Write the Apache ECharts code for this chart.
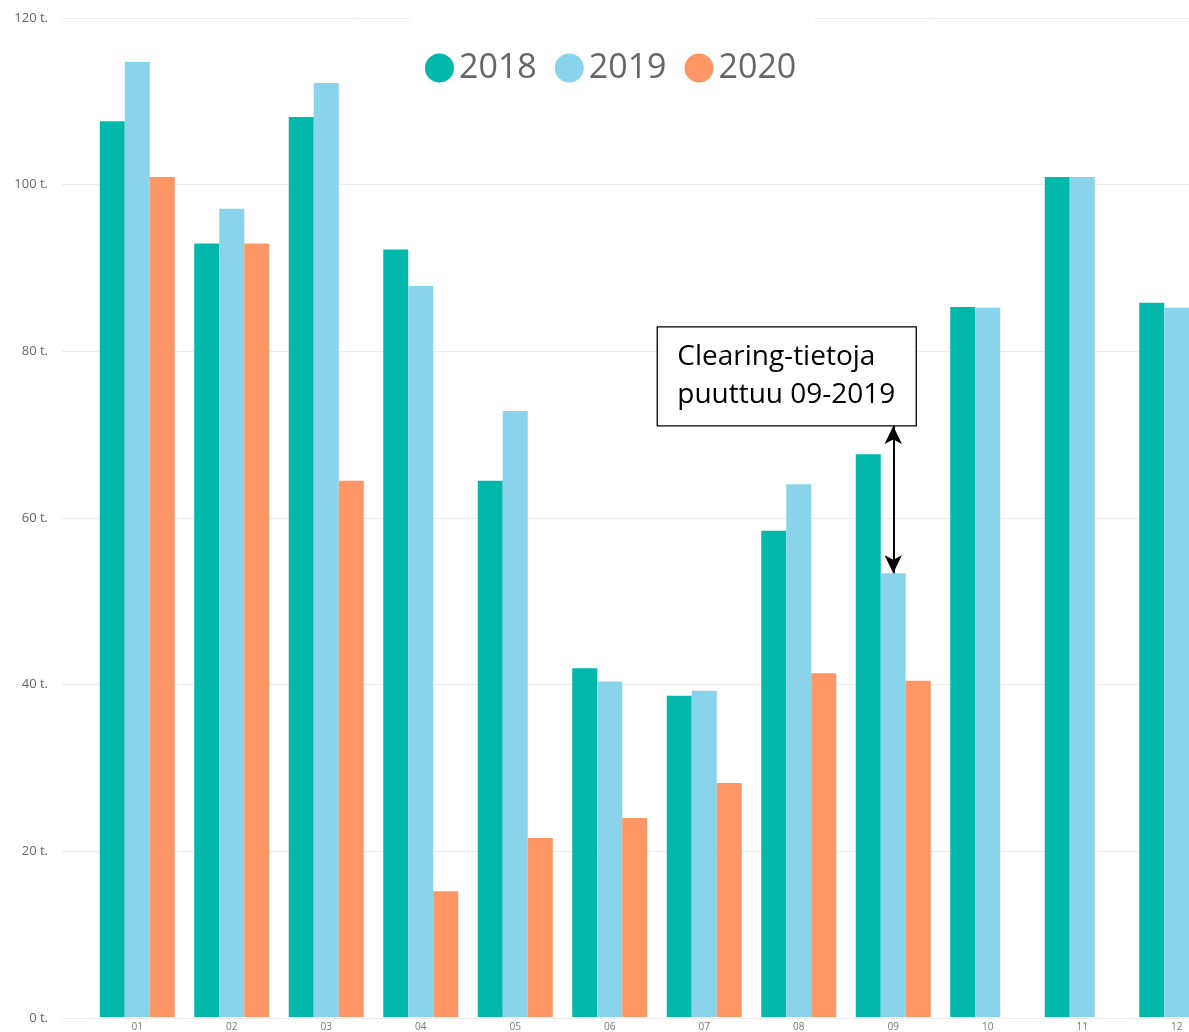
<!DOCTYPE html>
<html>
<head>
<meta charset="utf-8">
<script src="https://cdn.jsdelivr.net/npm/echarts@6/dist/echarts.min.js"></script>
<style>
html,body{margin:0;padding:0;background:#fff;overflow:hidden;width:1189px;height:1032px;}
#c{width:1224px;height:1032px;}
</style>
</head>
<body>
<div id="c"></div>
<script>
const months = ['01','02','03','04','05','06','07','08','09','10','11','12'];
const y2018 = [107.6, 92.9, 108.1, 92.2, 64.4, 41.9, 38.6, 58.4, 67.6, 85.3, 100.9, 85.8];
const y2019 = [114.7, 97.1, 112.2, 87.8, 72.8, 40.3, 39.2, 64.0, 53.3, 85.2, 100.9, 85.2];
const y2020 = [100.9, 92.9, 64.4, 15.1, 21.5, 23.9, 28.1, 41.3, 40.4, null, null, null];
const seriesNames = ['2018', '2019', '2020'];
const yTicks = [0, 20, 40, 60, 80, 100, 120];
const noteLines = ['Clearing-tietoja', 'puuttuu 09-2019'];
const noteMonth = '09';
const noteArrowTop = 71;

const colors = ['#01B8AA', '#8AD4EB', '#FE9666'];
const chart = echarts.init(document.getElementById('c'));

function barSeries(name, data, idx) {
  return {
    name: name, type: 'bar', data: data,
    xAxisIndex: 0, yAxisIndex: 0,
    barWidth: 25, barGap: '0%',
    itemStyle: { color: colors[idx] },
    emphasis: { disabled: true }
  };
}

const s2019 = barSeries('2019', y2019, 1);
s2019.markLine = {
  silent: true,
  symbol: ['arrow', 'arrow'],
  symbolSize: [13, 18],
  label: { show: false },
  lineStyle: { color: '#000', width: 2, type: 'solid' },
  data: [[
    { coord: [noteMonth, noteArrowTop] },
    { coord: [noteMonth, y2019[months.indexOf(noteMonth)]] }
  ]]
};

chart.setOption({
  animation: false,
  color: colors,
  legend: {
    data: seriesNames,
    left: 410, top: 3,
    padding: [48, 18, 12, 15],
    backgroundColor: '#fff',
    icon: 'circle',
    itemWidth: 29, itemHeight: 29, itemGap: 18,
    textStyle: { fontSize: 34, color: '#666', fontFamily: 'Open Sans' }
  },
  grid: [
    { left: 90, right: 0, top: 18, bottom: 14 },
    { left: 62, right: 0, top: 18, bottom: 14 }
  ],
  xAxis: [
    {
      type: 'category', data: months, gridIndex: 0,
      axisLine: { show: false }, axisTick: { show: false },
      axisLabel: { fontSize: 10, color: '#777', margin: 5, fontFamily: 'Open Sans' }
    },
    { type: 'value', gridIndex: 1, show: false, min: 0, max: 1 }
  ],
  yAxis: [
    { type: 'value', gridIndex: 0, min: 0, max: 120, interval: 20, show: false, splitLine: { show: false } },
    {
      type: 'value', gridIndex: 1, min: yTicks[0], max: yTicks[yTicks.length - 1], interval: 20,
      axisLine: { show: false }, axisTick: { show: false },
      axisLabel: { formatter: '{value} t.', fontSize: 13, color: '#666', margin: 14, fontFamily: 'Open Sans' },
      splitLine: { lineStyle: { color: '#ececec', width: 1 } }
    }
  ],
  series: [
    barSeries('2018', y2018, 0),
    s2019,
    barSeries('2020', y2020, 2)
  ]
});

const p = chart.convertToPixel({ xAxisIndex: 0, yAxisIndex: 0 }, [noteMonth, noteArrowTop]);
const boxW = 259, boxH = 99;
const boxLeft = p[0] - 236, boxTop = p[1] - boxH;
chart.setOption({
  graphic: [
    {
      type: 'rect', z: 100,
      shape: { x: boxLeft, y: boxTop, width: boxW, height: boxH },
      style: { fill: '#fff', stroke: '#000', lineWidth: 1.3 }
    },
    {
      type: 'text', z: 101,
      x: boxLeft + 20, y: boxTop + boxH / 2,
      style: {
        text: noteLines.join('\n'),
        font: '28px "Open Sans"',
        fill: '#000',
        lineHeight: 38,
        verticalAlign: 'middle',
        align: 'left'
      }
    }
  ]
});
</script>
</body>
</html>
